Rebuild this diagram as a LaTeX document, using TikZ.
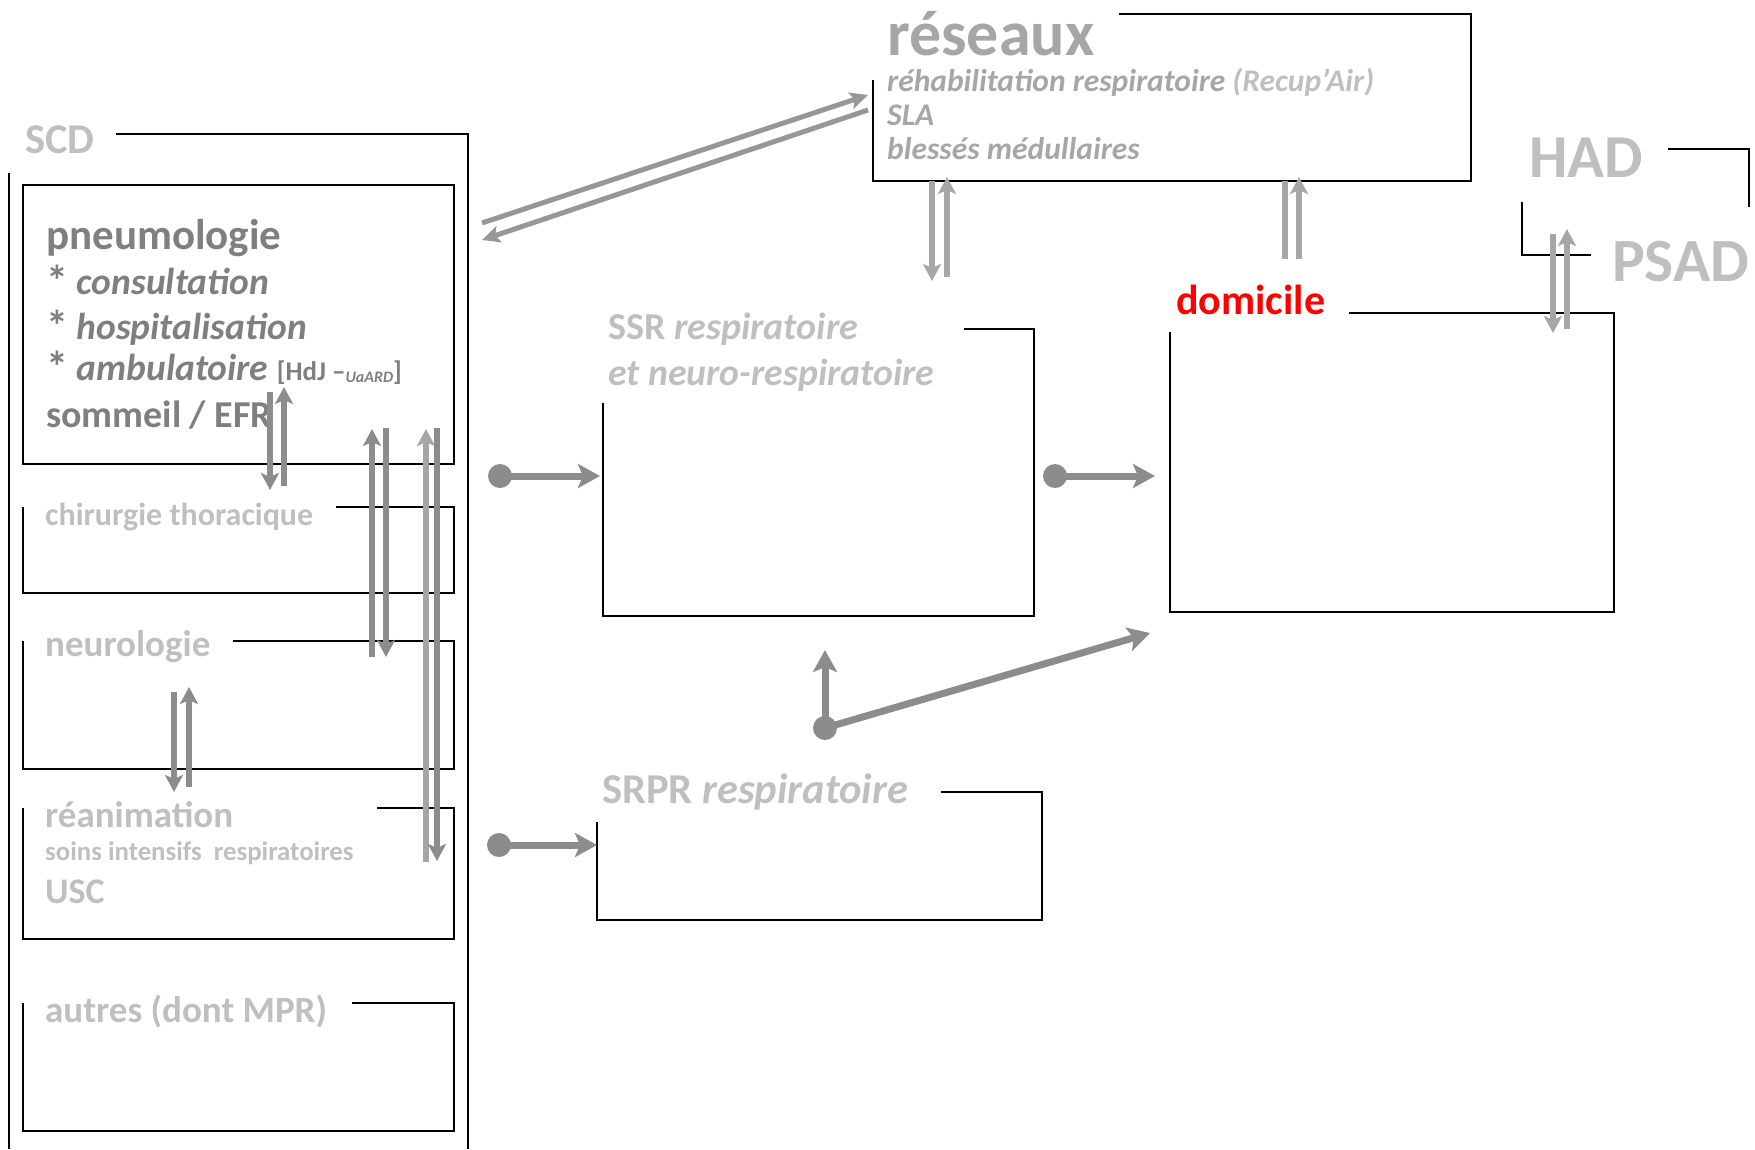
\documentclass[tikz,border=0pt]{standalone}
\usepackage{fontspec}
\setmainfont{Carlito}
\usetikzlibrary{arrows.meta}
\definecolor{lgray}{HTML}{BFBFBF}
\definecolor{mgray}{HTML}{A6A6A6}
\definecolor{dgray}{HTML}{7F7F7F}
\definecolor{agray}{HTML}{8C8C8C}
\definecolor{domred}{HTML}{FF0000}
\newcommand\myfs[1]{\fontsize{#1}{#1}\selectfont}
\newcommand\mystar{\raisebox{-2pt}{\myfs{44}*}}
\begin{document}
\begin{tikzpicture}[x=1pt,y=-1pt,
  frame/.style={black, line width=2pt},
  lbl/.style={anchor=base west, inner sep=0pt, font=\bfseries},
  varr/.style={line width=5.5pt, -{Stealth[length=17pt,width=18pt,inset=4pt]}},
  vline/.style={line width=5.5pt},
  darr/.style={line width=5pt, -{Stealth[length=18pt,width=17pt,inset=4pt]}},
  dotarr/.style={line width=7pt, agray, -{Stealth[length=22pt,width=24pt,inset=5pt]}},
  dot/.style={fill=agray}
]
\useasboundingbox (0,0) rectangle (1755,1149);

% ---------- SCD frame and its boxes ----------
\draw[frame] (116,134) -- (468,134) -- (468,1149);
\draw[frame] (9,173) -- (9,1149);
\node[lbl, text=lgray, font=\bfseries\myfs{42.5}] (scd) at (25,153) {SCD};

\draw[frame] (23,185) rectangle (454,464);
\node[lbl, text=dgray, font=\bfseries\myfs{43}] (pneumo) at (46,249) {pneumologie};
\node[lbl, text=dgray, font=\bfseries\myfs{37.5}] (consult) at (46,294) {\mystar\ \textit{consultation}};
\node[lbl, text=dgray, font=\bfseries\myfs{37.5}] (hosp) at (46,339) {\mystar\ \textit{hospitalisation}};
\node[lbl, text=dgray, font=\bfseries\myfs{37.5}] (ambu) at (46,380) {\mystar\ \textit{ambulatoire} {\myfs{27}[HdJ –\raisebox{-2pt}{\myfs{16}\textit{UaARD}}]}};
\node[lbl, text=dgray, font=\bfseries\myfs{38}] (sommeil) at (46,427) {sommeil / EFR};

\draw[frame] (336,507) -- (454,507) -- (454,593) -- (23,593) -- (23,507);
\node[lbl, text=lgray, font=\bfseries\myfs{32}] (chir) at (45,525) {chirurgie thoracique};

\draw[frame] (233,641) -- (454,641) -- (454,769) -- (23,769) -- (23,641);
\node[lbl, text=lgray, font=\bfseries\myfs{37}] (neuro) at (45,656) {neurologie};

\draw[frame] (377,808) -- (454,808) -- (454,939) -- (23,939) -- (23,808);
\node[lbl, text=lgray, font=\bfseries\myfs{37}] (rea) at (45,827) {réanimation};
\node[lbl, text=lgray, font=\bfseries\myfs{26.8}] (soins) at (45,860) {soins intensifs\ \ respiratoires};
\node[lbl, text=lgray, font=\bfseries\myfs{36}] (usc) at (45,903) {USC};

\draw[frame] (352,1003) -- (454,1003) -- (454,1131) -- (23,1131) -- (23,1003);
\node[lbl, text=lgray, font=\bfseries\myfs{37}] (autres) at (45,1022) {autres (dont MPR)};

% ---------- réseaux ----------
\draw[frame] (1119,14) -- (1471,14) -- (1471,181) -- (873,181) -- (873,80);
\node[lbl, text=mgray, font=\bfseries\myfs{64}] (reseaux) at (887,55) {réseaux};
\node[lbl, text=mgray, font=\bfseries\itshape\myfs{31.5}] (rehab) at (887,91) {réhabilitation respiratoire {\color{lgray}(Recup’Air)}};
\node[lbl, text=mgray, font=\bfseries\itshape\myfs{31.5}] (sla) at (887,125) {SLA};
\node[lbl, text=mgray, font=\bfseries\itshape\myfs{31.5}] (blesses) at (887,159) {blessés médullaires};

% ---------- HAD / PSAD ----------
\node[lbl, text=lgray, font=\bfseries\myfs{61}] (had) at (1529,177) {HAD};
\draw[frame] (1668,149) -- (1749,149) -- (1749,207);
\node[lbl, text=lgray, font=\bfseries\myfs{61.5}] (psad) at (1612,281) {PSAD};
\draw[frame] (1522,202) -- (1522,255) -- (1591,255);

% ---------- SSR ----------
\draw[frame] (964,329) -- (1034,329) -- (1034,616) -- (603,616) -- (603,403);
\node[lbl, text=lgray, font=\bfseries\myfs{38}] (ssr1) at (608,339) {SSR \textit{respiratoire}};
\node[lbl, text=lgray, font=\bfseries\itshape\myfs{37.8}] (ssr2) at (608,385) {et neuro-respiratoire};

% ---------- domicile ----------
\draw[frame] (1349,313) -- (1614,313) -- (1614,612) -- (1170,612) -- (1170,332);
\node[lbl, text=domred, font=\bfseries\myfs{42}] (domicile) at (1176,314) {domicile};

% ---------- SRPR ----------
\draw[frame] (941,792) -- (1042,792) -- (1042,920) -- (597,920) -- (597,822);
\node[lbl, text=lgray, font=\bfseries\myfs{42.5}] (srpr) at (602,803) {SRPR \textit{respiratoire}};

% ---------- vertical arrows inside SCD ----------
\coordinate (p1a) at (270,392); \coordinate (p1b) at (270,490);
\coordinate (p2a) at (284,486); \coordinate (p2b) at (284,387);
\draw[varr, agray] (p1a) -- (p1b);
\draw[varr, agray] (p2a) -- (p2b);
\coordinate (c1a) at (372,657); \coordinate (c1b) at (372,429);
\coordinate (c2a) at (386,428); \coordinate (c2b) at (386,657);
\draw[varr, agray] (c1a) -- (c1b);
\draw[varr, agray] (c2a) -- (c2b);
\coordinate (r1a) at (426,862); \coordinate (r1b) at (426,429);
\coordinate (r2a) at (437,428); \coordinate (r2b) at (437,861);
\draw[varr, mgray] (r1a) -- (r1b);
\draw[varr, agray] (r2a) -- (r2b);
\coordinate (n1a) at (174,692); \coordinate (n1b) at (174,792);
\coordinate (n2a) at (189,787); \coordinate (n2b) at (189,687);
\draw[varr, agray] (n1a) -- (n1b);
\draw[varr, agray] (n2a) -- (n2b);

% ---------- réseaux arrows ----------
\coordinate (s1a) at (932,181); \coordinate (s1b) at (932,281);
\coordinate (s2a) at (947,277); \coordinate (s2b) at (947,177);
\draw[varr, mgray] (s1a) -- (s1b);
\draw[varr, mgray] (s2a) -- (s2b);
\coordinate (h1a) at (1285,181); \coordinate (h1b) at (1285,259);
\coordinate (h2a) at (1299,259); \coordinate (h2b) at (1299,177);
\draw[vline, mgray] (h1a) -- (h1b);
\draw[varr, mgray] (h2a) -- (h2b);
\coordinate (q1a) at (1553,234); \coordinate (q1b) at (1553,333);
\coordinate (q2a) at (1567,329); \coordinate (q2b) at (1567,229);
\draw[varr, mgray] (q1a) -- (q1b);
\draw[varr, mgray] (q2a) -- (q2b);

% ---------- diagonal arrows SCD <-> réseaux ----------
\coordinate (g1a) at (482,223); \coordinate (g1b) at (868,95);
\coordinate (g2a) at (868,110); \coordinate (g2b) at (482,240);
\draw[darr, color=agray!90] (g1a) -- (g1b);
\draw[darr, color=agray!90] (g2a) -- (g2b);

% ---------- dot arrows ----------
\coordinate (d1) at (500,476); \coordinate (d1e) at (600,476);
\coordinate (d2) at (1055,476); \coordinate (d2e) at (1155,476);
\coordinate (d3) at (499,845); \coordinate (d3e) at (597,845);
\coordinate (d4) at (825,728); \coordinate (d4u) at (825,650); \coordinate (d4d) at (1150,633);
\draw[dotarr] (d1) -- (d1e);
\draw[dotarr] (d2) -- (d2e);
\draw[dotarr] (d3) -- (d3e);
\draw[dotarr] (d4) -- (d4u);
\draw[dotarr] (d4) -- (d4d);
\fill[dot] (d1) circle (12);
\fill[dot] (d2) circle (12);
\fill[dot] (d3) circle (12);
\fill[dot] (d4) circle (12);
\end{tikzpicture}
\end{document}
